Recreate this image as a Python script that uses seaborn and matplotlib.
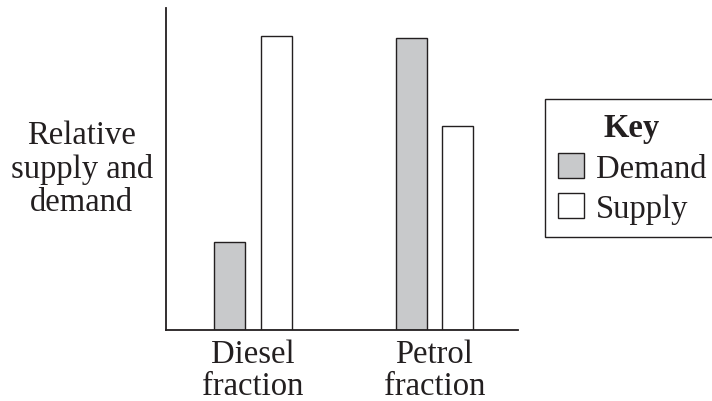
import pandas as pd
import matplotlib
matplotlib.use("Agg")
import matplotlib.pyplot as plt
import seaborn as sns
from matplotlib.patches import Patch

# -------------------------
# data (relative units, axis top = 100)
# -------------------------
fractions = ["Diesel\nfraction", "Petrol\nfraction"]
demand = [27.4, 90.7]
supply = [91.3, 63.3]

df = pd.DataFrame({
    "fraction": fractions * 2,
    "series": ["Demand"] * 2 + ["Supply"] * 2,
    "value": demand + supply,
})

sns.set_style("white")
plt.rcParams['font.family'] = ['Liberation Serif', 'DejaVu Serif']
ink = "#231f20"
fs = 23.5

fig = plt.figure(figsize=(7.12, 4.02), dpi=100)
ax = fig.add_axes([0.2327, 0.1774, 0.727 - 0.2327, 0.9776 - 0.1774])

sns.barplot(data=df, x="fraction", y="value", hue="series",
            palette={"Demand": "#c8c9cb", "Supply": "white"},
            width=0.512, gap=0.33, edgecolor=ink, linewidth=1.0,
            ax=ax, legend=False)

ax.set_xlim(-0.481, 1.459)
ax.set_ylim(0, 100)
ax.set_yticks([])
ax.set_xlabel("")
ax.tick_params(axis='x', length=0, pad=6, labelsize=fs, colors=ink)
for lab in ax.get_xticklabels():
    lab.set_linespacing(1.1)

sns.despine(ax=ax)
for s in ["left", "bottom"]:
    ax.spines[s].set_linewidth(1.3)
    ax.spines[s].set_color(ink)

ax.set_ylabel("Relative\nsupply and\ndemand", rotation=0, fontsize=fs,
              color=ink, ha='center', va='center', linespacing=1.1)
ax.yaxis.set_label_coords(-0.238, 0.502)

# key box
handles = [Patch(facecolor="#c8c9cb", edgecolor=ink, linewidth=1.0, label="Demand"),
           Patch(facecolor="white", edgecolor=ink, linewidth=1.0, label="Supply")]
leg = fig.legend(handles=handles, title="Key", loc="upper left",
                 bbox_to_anchor=(545 / 712, 1 - 100 / 402),
                 fontsize=fs, title_fontproperties={'weight': 'bold', 'size': fs},
                 fancybox=False, edgecolor=ink, framealpha=1,
                 handlelength=0.8, handleheight=0.8, handletextpad=0.35,
                 labelspacing=0.3, borderpad=0.4, borderaxespad=0)
leg.get_frame().set_linewidth(1.0)
for t in leg.get_texts():
    t.set_color(ink)
leg.get_title().set_color(ink)

fig.savefig("out.png", dpi=100)
